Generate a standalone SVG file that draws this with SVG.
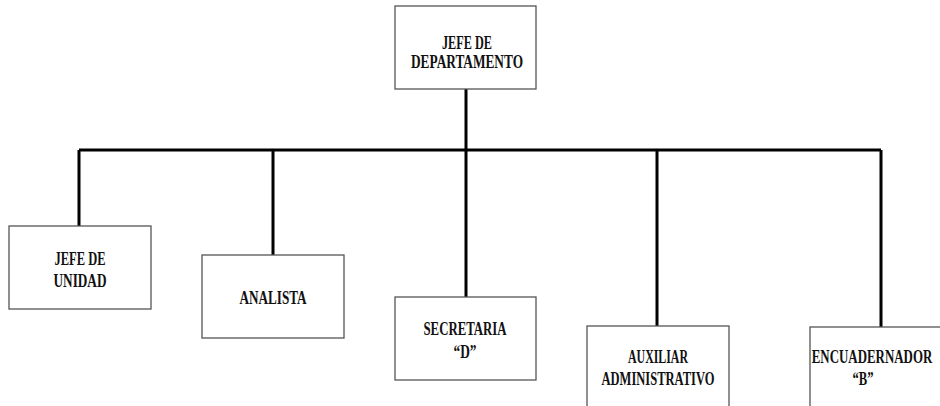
<svg xmlns="http://www.w3.org/2000/svg" width="940" height="406" viewBox="0 0 940 406">
<style>
.box{fill:#fff;stroke:#555;stroke-width:1.3}
.lbl{font-family:"Liberation Serif","DejaVu Serif",serif;font-weight:bold;font-size:19px;fill:#111;text-anchor:middle}
.conn{stroke:#000;stroke-width:3;fill:none}
</style>
<rect width="940" height="406" fill="#fff"/>
<g id="connectors">
<line class="conn" x1="79" y1="150" x2="881" y2="150"/>
<line class="conn" x1="466" y1="89" x2="466" y2="297"/>
<line class="conn" x1="79" y1="150" x2="79" y2="226"/>
<line class="conn" x1="273" y1="150" x2="273" y2="255"/>
<line class="conn" x1="657" y1="150" x2="657" y2="326"/>
<line class="conn" x1="881" y1="150" x2="881" y2="327"/>
</g>
<g id="jefe-departamento">
<rect class="box" x="395" y="6" width="141" height="83"/>
<text class="lbl" x="467" y="49" textLength="50" lengthAdjust="spacingAndGlyphs">JEFE DE</text>
<text class="lbl" x="467" y="68" textLength="112" lengthAdjust="spacingAndGlyphs">DEPARTAMENTO</text>
</g>
<g id="jefe-unidad">
<rect class="box" x="9" y="226" width="142" height="83"/>
<text class="lbl" x="80" y="265" textLength="51" lengthAdjust="spacingAndGlyphs">JEFE DE</text>
<text class="lbl" x="80" y="287" textLength="53" lengthAdjust="spacingAndGlyphs">UNIDAD</text>
</g>
<g id="analista">
<rect class="box" x="202" y="255" width="142" height="83"/>
<text class="lbl" x="273" y="304" textLength="67" lengthAdjust="spacingAndGlyphs">ANALISTA</text>
</g>
<g id="secretaria">
<rect class="box" x="395" y="297" width="141" height="83"/>
<text class="lbl" x="465" y="335" textLength="83" lengthAdjust="spacingAndGlyphs">SECRETARIA</text>
<text class="lbl" x="465" y="358" textLength="23" lengthAdjust="spacingAndGlyphs">“D”</text>
</g>
<g id="auxiliar">
<rect class="box" x="587" y="326" width="142" height="90"/>
<text class="lbl" x="658" y="363" textLength="60" lengthAdjust="spacingAndGlyphs">AUXILIAR</text>
<text class="lbl" x="658" y="385" textLength="113" lengthAdjust="spacingAndGlyphs">ADMINISTRATIVO</text>
</g>
<g id="encuadernador">
<rect class="box" x="810" y="327" width="140" height="90"/>
<text class="lbl" transform="translate(872 363) scale(0.68 1)" x="0" y="0">ENCUADERNADOR</text>
<text class="lbl" x="863" y="385" textLength="21" lengthAdjust="spacingAndGlyphs">“B”</text>
</g>
</svg>
